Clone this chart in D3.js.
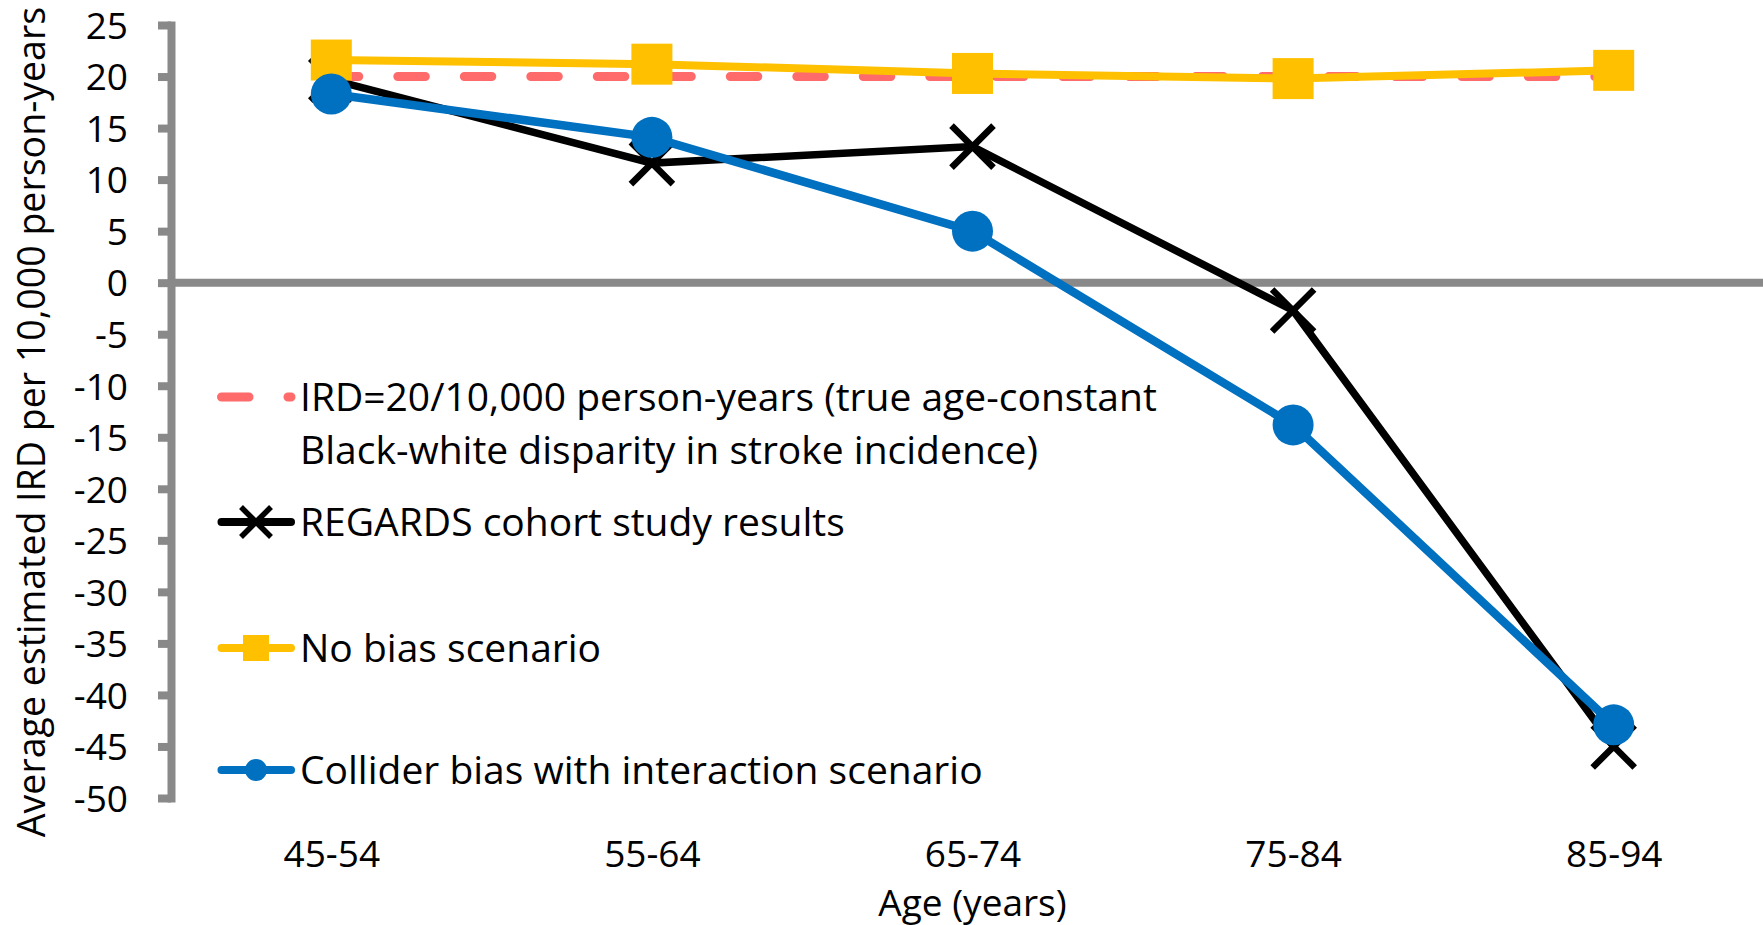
<!DOCTYPE html>
<html>
<head>
<meta charset="utf-8">
<script src="https://d3js.org/d3.v7.min.js"></script>
<style>
  body { margin: 0; background: #fff; }
  svg { display: block; font-family: "Open Sans", sans-serif; }
</style>
</head>
<body>
<svg width="1763" height="925"></svg>
<script>
// values
var ageGroups = ["45-54", "55-64", "65-74", "75-84", "85-94"];
var trueIrd = [20, 20, 20, 20, 20];
var regards = [19.7, 11.6, 13.2, -2.7, -45.0];
var noBias = [21.6, 21.2, 20.3, 19.8, 20.6];
var collider = [18.3, 14.1, 5.0, -13.8, -42.9];
var yTicks = [25, 20, 15, 10, 5, 0, -5, -10, -15, -20, -25, -30, -35, -40, -45, -50];
var legendLabels = [
  ["IRD=20/10,000 person-years (true age-constant", "Black-white disparity in stroke incidence)"],
  ["REGARDS cohort study results"],
  ["No bias scenario"],
  ["Collider bias with interaction scenario"]
];

var grey = "#898989",
    red = "#ff6b6b",
    yellow = "#ffc000",
    blue = "#0070c0";

var svg = d3.select("svg");

var x = d3.scalePoint().domain(ageGroups).range([171, 1774]).padding(0.5);
var y = d3.scaleLinear().domain([-50, 25]).range([798, 25]);

// y axis (plain hyphen for negatives, like the original)
var yAxis = svg.append("g")
    .attr("transform", "translate(171,0)")
    .call(d3.axisLeft(y).tickValues(yTicks).tickFormat(function(d) { return String(d); })
      .tickSize(13).tickSizeOuter(0).tickPadding(30))
    .attr("font-family", null)
    .attr("font-size", null);
yAxis.select(".domain")
    .attr("stroke", grey)
    .attr("stroke-width", 8)
    .attr("stroke-linecap", "square");
yAxis.selectAll(".tick line")
    .attr("stroke", grey)
    .attr("stroke-width", 8);
yAxis.selectAll(".tick text")
    .attr("fill", "#000")
    .attr("dy", "0.36em")
    .style("font-size", "37px");

// zero line
svg.append("line")
    .attr("x1", x.range()[0])
    .attr("x2", x.range()[1])
    .attr("y1", y(0))
    .attr("y2", y(0))
    .attr("stroke", grey)
    .attr("stroke-width", 8);

// category labels
var xAxis = svg.append("g")
    .attr("transform", "translate(0,867)")
    .call(d3.axisBottom(x).tickSize(0).tickPadding(0))
    .attr("font-family", null)
    .attr("font-size", null);
xAxis.select(".domain").remove();
xAxis.selectAll(".tick text")
    .attr("fill", "#000")
    .attr("y", 0)
    .attr("dy", 0)
    .style("font-size", "37px");

// axis titles
svg.append("text")
    .attr("x", x("65-74"))
    .attr("y", 916)
    .attr("text-anchor", "middle")
    .style("font-size", "37px")
    .text("Age (years)");

svg.append("text")
    .attr("transform", "translate(45,422) rotate(-90)")
    .attr("text-anchor", "middle")
    .style("font-size", "37.5px")
    .text("Average estimated IRD per 10,000 person-years");

var line = d3.line()
    .x(function(d, i) { return x(ageGroups[i]); })
    .y(function(d) { return y(d); });

// true IRD dashed line
svg.append("path")
    .attr("d", line(trueIrd))
    .attr("fill", "none")
    .attr("stroke", red)
    .attr("stroke-width", 9)
    .attr("stroke-linecap", "round")
    .attr("stroke-dasharray", "27.5,39");

var xMark = function(h) {
  return "M" + -h + "," + -h + "L" + h + "," + h + "M" + -h + "," + h + "L" + h + "," + -h;
};

// REGARDS
svg.append("path")
    .attr("d", line(regards))
    .attr("fill", "none")
    .attr("stroke", "#000")
    .attr("stroke-width", 7.5);
svg.selectAll(".xm")
    .data(regards)
    .enter().append("path")
    .attr("class", "xm")
    .attr("transform", function(d, i) { return "translate(" + x(ageGroups[i]) + "," + y(d) + ")"; })
    .attr("d", xMark(21))
    .attr("stroke", "#000")
    .attr("stroke-width", 6.5);

// no bias
svg.append("path")
    .attr("d", line(noBias))
    .attr("fill", "none")
    .attr("stroke", yellow)
    .attr("stroke-width", 8);
svg.selectAll(".sq")
    .data(noBias)
    .enter().append("rect")
    .attr("class", "sq")
    .attr("x", function(d, i) { return x(ageGroups[i]) - 20.5; })
    .attr("y", function(d) { return y(d) - 20.5; })
    .attr("width", 41)
    .attr("height", 41)
    .attr("fill", yellow);

// collider bias
svg.append("path")
    .attr("d", line(collider))
    .attr("fill", "none")
    .attr("stroke", blue)
    .attr("stroke-width", 8.5);
svg.selectAll(".dot")
    .data(collider)
    .enter().append("circle")
    .attr("class", "dot")
    .attr("cx", function(d, i) { return x(ageGroups[i]); })
    .attr("cy", function(d) { return y(d); })
    .attr("r", 20.5)
    .attr("fill", blue);

// legend
var legendY = [397, 522, 648, 770];
var legendColors = [red, "#000", yellow, blue];

var lg = svg.selectAll(".legend")
    .data(legendLabels)
    .enter().append("g")
    .attr("class", "legend")
    .attr("transform", function(d, i) { return "translate(0," + legendY[i] + ")"; });

lg.append("line")
    .attr("x1", 221.5)
    .attr("x2", 291)
    .attr("stroke", function(d, i) { return legendColors[i]; })
    .attr("stroke-width", function(d, i) { return i === 0 ? 9 : 8; })
    .attr("stroke-linecap", "round")
    .attr("stroke-dasharray", function(d, i) { return i === 0 ? "27.5,39" : null; });

lg.filter(function(d, i) { return i === 1; }).append("path")
    .attr("transform", "translate(256,0)")
    .attr("d", xMark(15))
    .attr("stroke", "#000")
    .attr("stroke-width", 5.5);

lg.filter(function(d, i) { return i === 2; }).append("rect")
    .attr("x", 256 - 13)
    .attr("y", -13)
    .attr("width", 26)
    .attr("height", 26)
    .attr("fill", yellow);

lg.filter(function(d, i) { return i === 3; }).append("circle")
    .attr("cx", 256)
    .attr("r", 11)
    .attr("fill", blue);

lg.append("text")
    .style("font-size", "39px")
    .selectAll("tspan")
    .data(function(d) { return d; })
    .enter().append("tspan")
    .attr("x", 300)
    .attr("y", function(d, i) { return i * 53; })
    .attr("dy", "0.36em")
    .text(function(d) { return d; });
</script>
</body>
</html>
